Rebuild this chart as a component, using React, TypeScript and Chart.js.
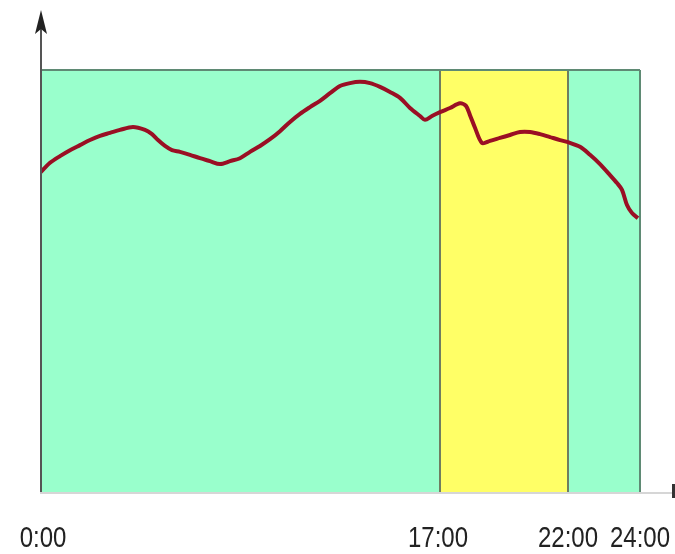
import React, { useEffect, useRef } from "react";
import { Chart, registerables } from "chart.js";

Chart.register(...registerables);

// Hours along the day (axis is schematic, positions as drawn in the picture)
const hours = [
  0, 0.4, 0.8, 1.2, 1.6, 2.0, 2.4, 2.8, 3.2, 3.72, 4.2, 4.48, 4.72, 5.0, 5.28, 5.6, 6.0, 6.4, 6.8, 7.2,
  7.6, 8.0, 8.4, 8.8, 9.2, 9.6, 10.0, 10.4, 10.8, 11.2, 11.6, 12.0, 12.4, 12.8, 13.2, 13.6, 14.0, 14.4,
  14.8, 15.2, 15.4, 15.68, 16.0, 16.4, 16.8, 17.04, 17.2, 17.4, 17.68, 18.0, 18.4, 18.8, 19.2, 19.6,
  20.0, 20.4, 20.8, 21.12, 21.6, 22.0, 22.4, 22.8, 23.08, 23.28, 23.48, 23.68, 23.92,
];
const load = [
  75.6, 78.0, 79.6, 81.0, 82.2, 83.4, 84.4, 85.1, 85.8, 86.5, 85.8, 84.8, 83.4, 82.0, 81.0, 80.6, 79.9,
  79.1, 78.4, 77.7, 78.4, 79.1, 80.6, 82.0, 83.6, 85.5, 87.7, 89.6, 91.2, 92.7, 94.5, 96.2, 96.9, 97.2,
  96.9, 96.0, 94.8, 93.4, 91.0, 89.1, 88.2, 89.1, 90.0, 91.0, 92.1, 91.5, 89.3, 86.3, 82.7, 83.2, 83.9,
  84.6, 85.3, 85.3, 84.8, 84.1, 83.4, 82.9, 81.8, 79.9, 77.7, 75.1, 73.2, 71.6, 68.0, 66.1, 64.9,
];
const tickPositions = [0, 16, 21.12, 24];
const tickLabels = ["0:00", "17:00", "22:00", "24:00"];
const bandStart = 16;
const bandEnd = 21.12;

const bgPlugin = {
  id: "bands",
  beforeDatasetsDraw(chart: any) {
    const { ctx, chartArea, scales } = chart;
    const x = scales.x;
    const { left, right, top, bottom } = chartArea;
    ctx.save();
    ctx.fillStyle = "#99ffcc";
    ctx.fillRect(left, top, right - left, bottom - top);
    const xs = x.getPixelForValue(bandStart);
    const xe = x.getPixelForValue(bandEnd);
    ctx.fillStyle = "#ffff66";
    ctx.fillRect(xs, top, xe - xs, bottom - top);
    // borders
    ctx.lineWidth = 2;
    ctx.strokeStyle = "#6f7d60";
    ctx.beginPath();
    ctx.moveTo(xs, top);
    ctx.lineTo(xs, bottom);
    ctx.moveTo(xe, top);
    ctx.lineTo(xe, bottom);
    ctx.stroke();
    ctx.strokeStyle = "#5f8a74";
    ctx.beginPath();
    ctx.moveTo(left, top);
    ctx.lineTo(right, top);
    ctx.moveTo(right, top);
    ctx.lineTo(right, bottom);
    ctx.stroke();
    ctx.restore();
  },
  afterDraw(chart: any) {
    const { ctx, chartArea, scales } = chart;
    const { left, bottom, top } = chartArea;
    ctx.save();
    // x-axis line extension
    ctx.strokeStyle = "#d6d6d6";
    ctx.lineWidth = 2;
    ctx.beginPath();
    ctx.moveTo(left, bottom + 1);
    ctx.lineTo(672, bottom + 1);
    ctx.stroke();
    ctx.fillStyle = "#333";
    ctx.fillRect(672, bottom - 8, 3, 14);
    // y-axis line with arrow
    ctx.strokeStyle = "#555";
    ctx.lineWidth = 2;
    ctx.beginPath();
    ctx.moveTo(left + 1, bottom);
    ctx.lineTo(left + 1, top - 50);
    ctx.stroke();
    ctx.fillStyle = "#222";
    ctx.beginPath();
    ctx.moveTo(left + 1, top - 60);
    ctx.lineTo(left - 5, top - 36);
    ctx.lineTo(left + 1, top - 41);
    ctx.lineTo(left + 7, top - 36);
    ctx.closePath();
    ctx.fill();
    // tick labels (horizontally condensed)
    const squeeze = 0.8;
    ctx.font = '30px "Liberation Sans", Arial, sans-serif';
    ctx.fillStyle = "#222";
    ctx.textAlign = "center";
    ctx.textBaseline = "alphabetic";
    tickPositions.forEach((v, i) => {
      let px = scales.x.getPixelForValue(v);
      const w = ctx.measureText(tickLabels[i]).width * squeeze;
      if (px + w / 2 > 673) px = 673 - w / 2;
      if (i === 1) px -= 2;
      ctx.save();
      ctx.translate(px + (i === 0 ? 3 : 0), 547);
      ctx.scale(squeeze, 1);
      ctx.fillText(tickLabels[i], 0, 0);
      ctx.restore();
    });
    ctx.restore();
  },
};

export default function App() {
  const ref = useRef<HTMLCanvasElement>(null);
  useEffect(() => {
    document.body.style.margin = "0";
    const chart = new Chart(ref.current as HTMLCanvasElement, {
      type: "line",
      data: {
        datasets: [
          {
            data: hours.map((h, i) => ({ x: h, y: load[i] })),
            borderColor: "#9a0f24",
            borderWidth: 4,
            pointRadius: 0,
            tension: 0.3,
            fill: false,
          },
        ],
      },
      options: {
        animation: false,
        responsive: false,
        layout: { padding: { left: 40, right: 35, top: 70, bottom: 62 } },
        plugins: { legend: { display: false }, tooltip: { enabled: false } },
        scales: {
          x: { type: "linear", min: 0, max: 24, display: false },
          y: { type: "linear", min: 0, max: 100, display: false },
        },
      },
      plugins: [bgPlugin],
    });
    return () => chart.destroy();
  }, []);
  return (
    <div style={{ width: 675, height: 554, background: "#fff" }}>
      <canvas ref={ref} width={675} height={554} />
    </div>
  );
}
